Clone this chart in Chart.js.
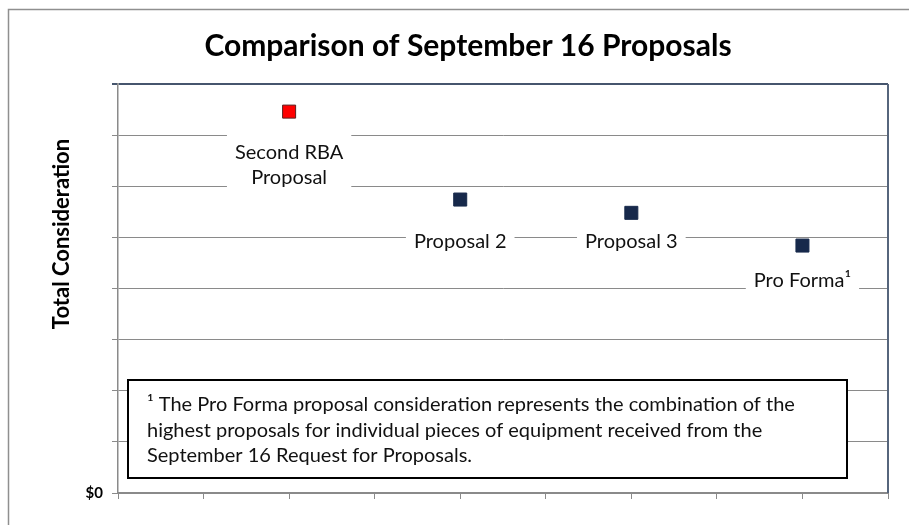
<!DOCTYPE html>
<html><head><meta charset="utf-8">
<script src="https://cdn.jsdelivr.net/npm/chart.js@4"></script>
<style>html,body{margin:0;padding:0;background:#fff}#wrap{width:909px;height:525px;position:relative}</style>
</head><body><div id="wrap"><canvas id="c" width="909" height="525"></canvas></div>
<script>
// ---- data ----
const categories = ['Second RBA\nProposal', 'Proposal 2', 'Proposal 3', 'Pro Forma\u00B9'];
const xPositions = [2, 4, 6, 8];
const totalConsideration = [7.46, 5.74, 5.48, 4.84];
const yTickLabels = ['$0'];
const chartTitle = 'Comparison of September 16 Proposals';
const yAxisTitle = 'Total Consideration';
const footnoteLines = [
  '\u00B9 The Pro Forma proposal consideration represents the combination of the',
  'highest proposals for individual pieces of equipment received from the',
  'September 16 Request for Proposals.'
];

// ---- styles ----
const FONT = 'Lato, "Open Sans", sans-serif';
const pointFill = ['#ff0000', '#17294b', '#17294b', '#17294b'];
const pointEdge = ['#5a2020', '#17294b', '#17294b', '#17294b'];
// baseline offsets (px) of each label's first line, relative to its point
const labelBaselineOffset = [47, 48, 35, 41];

const decor = {
  id: 'decor',
  beforeDraw(chart) {
    const ctx = chart.ctx;
    ctx.save();
    ctx.fillStyle = '#fff';
    ctx.fillRect(0, 0, chart.width, chart.height);
    ctx.strokeStyle = '#8f8f8f';
    ctx.lineWidth = 1.5;
    ctx.beginPath();
    ctx.moveTo(8.5, chart.height + 5);
    ctx.lineTo(8.5, 9.5);
    ctx.lineTo(chart.width + 5, 9.5);
    ctx.stroke();
    ctx.restore();
  },
  afterDatasetsDraw(chart) {
    const ctx = chart.ctx;
    const a = chart.chartArea;
    const xs = chart.scales.x, ys = chart.scales.y;
    ctx.save();
    // right border of plot area
    ctx.strokeStyle = '#56657c';
    ctx.lineWidth = 2;
    ctx.beginPath();
    ctx.moveTo(a.right, a.top);
    ctx.lineTo(a.right, a.bottom);
    ctx.stroke();

    // data labels
    ctx.font = '20px ' + FONT;
    ctx.textAlign = 'center';
    ctx.textBaseline = 'alphabetic';
    categories.forEach((lab, i) => {
      const px = xs.getPixelForValue(xPositions[i]);
      const py = ys.getPixelForValue(totalConsideration[i]);
      const lines = lab.split('\n');
      const b0 = py + labelBaselineOffset[i];
      const lh = 25;
      let w = 0;
      lines.forEach(l => { w = Math.max(w, ctx.measureText(l).width); });
      ctx.fillStyle = '#fff';
      ctx.fillRect(px - w / 2 - 8, b0 - 25, w + 16, (lines.length - 1) * lh + 32);
      ctx.fillStyle = '#111';
      lines.forEach((l, k) => ctx.fillText(l, px, b0 + k * lh));
    });

    // footnote box
    ctx.fillStyle = '#fff';
    ctx.fillRect(128, 380, 719, 98);
    ctx.strokeStyle = '#000';
    ctx.lineWidth = 2;
    ctx.strokeRect(128, 380, 719, 98);
    ctx.fillStyle = '#111';
    ctx.textAlign = 'left';
    ctx.font = '20px ' + FONT;
    footnoteLines.forEach((l, k) => ctx.fillText(l, 147, 411 + k * 25.5));
    ctx.restore();
  },
  afterDraw(chart) {
    const ctx = chart.ctx;
    ctx.save();
    ctx.fillStyle = '#000';
    ctx.textAlign = 'center';
    ctx.textBaseline = 'middle';
    ctx.font = 'bold 30px ' + FONT;
    ctx.fillText(chartTitle, 468, 46);
    ctx.translate(62, 234);
    ctx.rotate(-Math.PI / 2);
    ctx.font = 'bold 22px ' + FONT;
    ctx.fillText(yAxisTitle, 0, 0);
    ctx.restore();
  }
};

new Chart(document.getElementById('c'), {
  type: 'scatter',
  data: {
    datasets: [{
      label: 'Total Consideration',
      data: xPositions.map((x, i) => ({ x, y: totalConsideration[i] })),
      pointStyle: 'rect',
      pointRadius: 9.2,
      pointHoverRadius: 9.2,
      pointBackgroundColor: pointFill,
      pointBorderColor: pointEdge,
      pointBorderWidth: 1
    }]
  },
  options: {
    responsive: false,
    animation: false,
    devicePixelRatio: 1,
    layout: { padding: { top: 84, right: 21, left: 0, bottom: 0 } },
    plugins: { legend: { display: false }, title: { display: false }, tooltip: { enabled: false } },
    scales: {
      x: {
        type: 'linear', min: 0, max: 9,
        ticks: { stepSize: 1, callback: () => '' },
        grid: { drawOnChartArea: false, drawTicks: true, tickLength: 6, color: '#8a8a8a' },
        border: { color: '#8a8a8a', width: 2 },
        afterFit(s) { s.height = 32; }
      },
      y: {
        min: 0, max: 8,
        ticks: {
          stepSize: 1, padding: 9, color: '#000',
          font: { family: FONT, size: 15, weight: 'bold' },
          callback: v => (v === 0 ? yTickLabels[0] : '')
        },
        grid: {
          tickLength: 6,
          color: c => (c.tick && c.tick.value === 8 ? '#46556d' : '#8a8a8a'),
          lineWidth: c => (c.tick && c.tick.value === 8 ? 2 : 1)
        },
        border: { color: '#8a8a8a', width: 1.5 },
        afterFit(s) { s.width = 118; }
      }
    }
  },
  plugins: [decor]
});
</script>
</body></html>
